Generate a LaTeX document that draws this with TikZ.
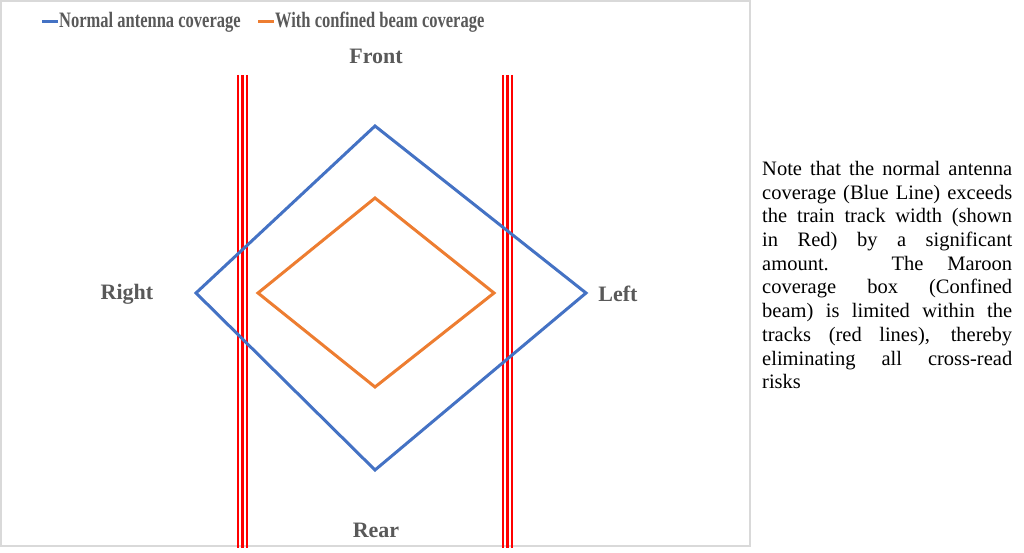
\documentclass[tikz,border=0pt]{standalone}
\usepackage{fontspec}
\setmainfont{Liberation Serif}
\newfontfamily\legendfont[FakeStretch=0.75]{Liberation Serif}
\usetikzlibrary{positioning}
\definecolor{chartblue}{HTML}{4472C4}
\definecolor{chartorange}{HTML}{ED7D31}
\definecolor{labelgray}{HTML}{595959}
\definecolor{framegray}{HTML}{D9D9D9}
\definecolor{trackred}{HTML}{FF0000}
\tikzset{
  legendtext/.style={font=\legendfont\bfseries\fontsize{22}{26}\selectfont,text=labelgray,anchor=west,inner sep=0pt},
  sidelabel/.style={font=\bfseries\fontsize{22}{26}\selectfont,text=labelgray,inner sep=0pt},
  notetext/.style={font=\fontsize{20.5}{23.7}\selectfont,text=black,text width=250pt,align=justify,inner sep=0pt,anchor=north west},
  chartframe/.style={draw=framegray,line width=1.2pt},
  rail/.style={draw=trackred,line width=2.4pt},
  normalcov/.style={draw=chartblue,line width=3pt},
  confinedcov/.style={draw=chartorange,line width=3pt},
  legline/.style={line width=3pt}
}
\begin{document}
\begin{tikzpicture}[x=1pt,y=-1pt]
\path[use as bounding box] (0,0) rectangle (1024,553);
\draw[chartframe] (1,1) rectangle (750,546);
% legend
\coordinate (lnA) at (42,22); \coordinate (lnB) at (58,22);
\coordinate (lcA) at (258,22); \coordinate (lcB) at (274,22);
\draw[legline,chartblue] (lnA) -- (lnB);
\draw[legline,chartorange] (lcA) -- (lcB);
\node[legendtext] (legnormal) at (59,22) {Normal antenna coverage};
\node[legendtext] (legconfined) at (275,22) {With confined beam coverage};
% tracks
\foreach \x in {238,242.5,247,503,507.5,512}{\draw[rail] (\x,75) -- (\x,548);}
% coverage boxes
\coordinate (nT) at (375,126); \coordinate (nR) at (586,293); \coordinate (nB) at (375,470); \coordinate (nL) at (196,293);
\coordinate (cT) at (375,198); \coordinate (cR) at (494,293); \coordinate (cB) at (375,387); \coordinate (cL) at (258,293);
\draw[normalcov] (nT) -- (nR) -- (nB) -- (nL) -- cycle;
\draw[confinedcov] (cT) -- (cR) -- (cB) -- (cL) -- cycle;
% directions
\node[sidelabel] (front) at (376,56) {Front};
\node[sidelabel] (rear) at (376,530) {Rear};
\node[sidelabel] (right) at (127,294) {Right};
\node[sidelabel] (left) at (618,294) {Left};
% note
\node[notetext] (note) at (762,161) {\tolerance=10000\hyphenpenalty=10000 Note that the normal antenna\linebreak coverage (Blue Line) exceeds\linebreak the train track width (shown\linebreak in Red) by a significant\linebreak amount. The Maroon\linebreak coverage box (Confined\linebreak beam) is limited within the\linebreak tracks (red lines), thereby\linebreak eliminating all cross-read\linebreak risks};
\end{tikzpicture}
\end{document}
